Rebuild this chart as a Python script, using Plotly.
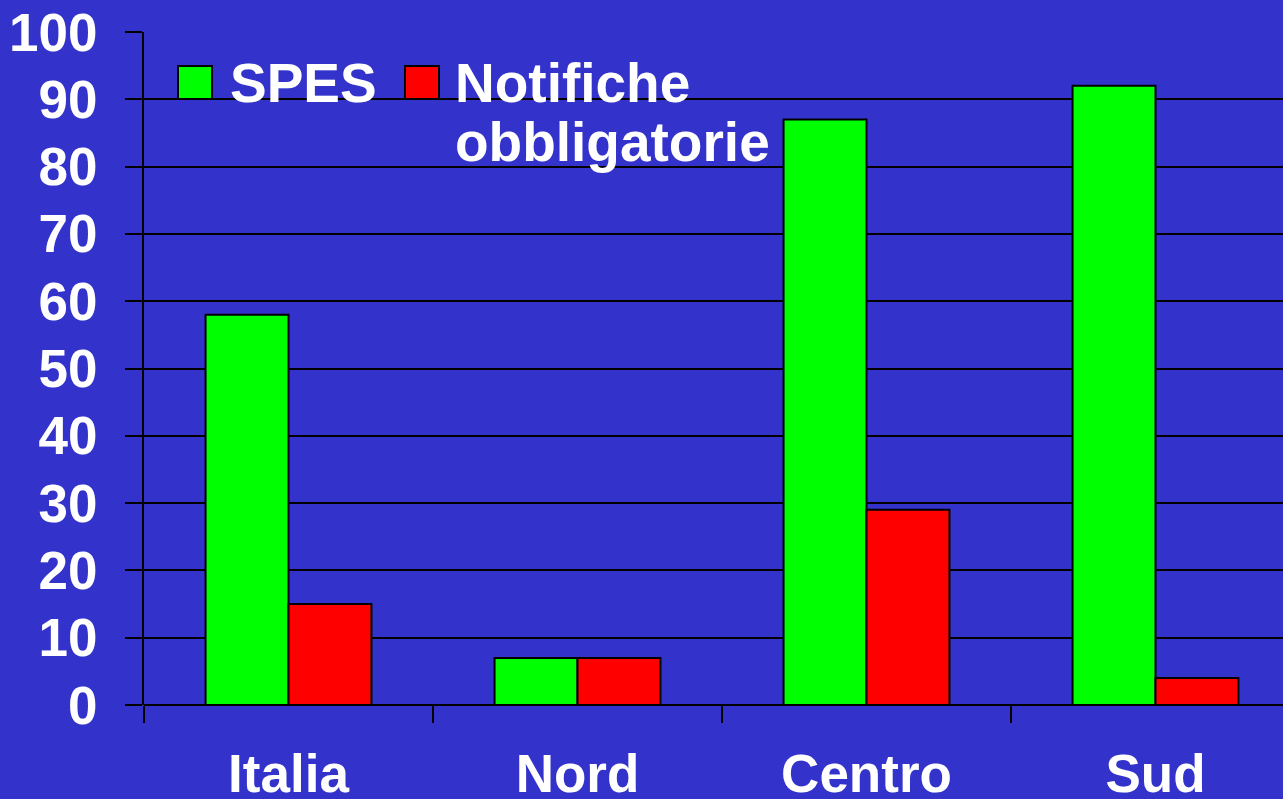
import plotly.graph_objects as go

categories = ["Italia", "Nord", "Centro", "Sud"]
spes = [58, 7, 87, 92]
notifiche = [15, 7, 29, 4]
series_names = ["SPES", "Notifiche obbligatorie"]
y_ticks = [0, 10, 20, 30, 40, 50, 60, 70, 80, 90, 100]

BG = "#3333CC"
GREEN = "#00FF00"
RED = "#FF0000"
FONT = "Liberation Sans"
FS = 53
FS_LEG = 55

W, H = 1283, 799
L, R, T, B = 144, 0, 32, 94
pw, ph = W - L - R, H - T - B


def px(x):
    return (x - L) / pw


def py(y):
    return (H - B - y) / ph


fig = go.Figure()
fig.add_trace(go.Bar(x=categories, y=spes, name=series_names[0],
                     marker=dict(color=GREEN, line=dict(color="black", width=2))))
fig.add_trace(go.Bar(x=categories, y=notifiche, name=series_names[1],
                     marker=dict(color=RED, line=dict(color="black", width=2))))

cat_px = 289
xmax = -0.5 + pw / cat_px

fig.update_layout(
    width=W, height=H, autosize=False,
    margin=dict(l=L, r=R, t=T, b=B, pad=0),
    paper_bgcolor=BG, plot_bgcolor=BG,
    barmode="group", bargap=0.426, bargroupgap=0,
    showlegend=False,
    font=dict(family=FONT, color="white", size=FS, weight="bold"),
    xaxis=dict(
        range=[-0.5, xmax], showgrid=False, zeroline=False, automargin=False,
        showline=False, ticks="outside", tickson="boundaries",
        ticklen=17, tickwidth=2, tickcolor="black",
        tickfont=dict(family=FONT, size=FS, color="white", weight="bold"),
        ticklabelstandoff=33,
    ),
    yaxis=dict(
        range=[0, 100], tickvals=y_ticks, showgrid=True, gridcolor="black",
        gridwidth=2, zeroline=True, zerolinecolor="black", zerolinewidth=2,
        showline=True, linecolor="black", linewidth=2, automargin=False,
        ticks="outside", ticklen=17, tickwidth=2, tickcolor="black",
        tickfont=dict(family=FONT, size=FS, color="white", weight="bold"),
        ticklabelstandoff=17,
    ),
)

# Legend drawn manually (large swatches)
for x0, color in [(178, GREEN), (405, RED)]:
    fig.add_shape(type="rect", xref="paper", yref="paper",
                  x0=px(x0), x1=px(x0 + 34), y0=py(99), y1=py(66),
                  fillcolor=color, line=dict(color="black", width=2))

legend_text = [("SPES", 228, 83), ("Notifiche", 453, 83), ("obbligatorie", 453, 142)]
for txt, x, y in legend_text:
    fig.add_annotation(text=txt, xref="paper", yref="paper", x=px(x), y=py(y),
                       xanchor="left", yanchor="middle", showarrow=False,
                       font=dict(family=FONT, size=FS_LEG, color="white", weight="bold"))

fig.write_html("out.html", config={"displayModeBar": False},
               post_script="document.body.style.margin='0';")
